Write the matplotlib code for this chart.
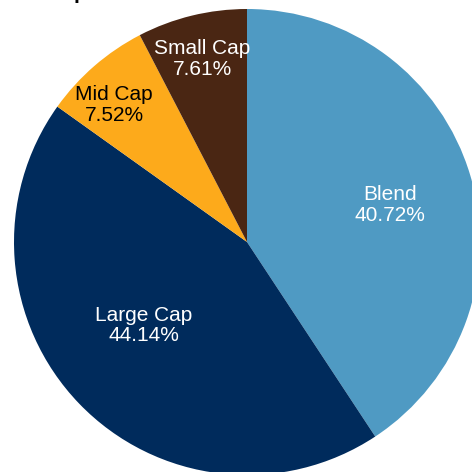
import numpy as np
import matplotlib
matplotlib.use("Agg")
import matplotlib.pyplot as plt

plt.rcParams['font.family'] = ['Liberation Sans', 'DejaVu Sans']

labels = ["Blend", "Large Cap", "Mid Cap", "Small Cap"]
values = [40.72, 44.14, 7.52, 7.61]
colors = ["#4F9AC3", "#002B5C", "#FDAA1B", "#4A2613"]
text_colors = ["white", "white", "black", "white"]
# label placement (fraction of radius, angle nudge in degrees)
label_dist = [0.635, 0.57, 0.82, 0.81]
label_nudge = [-2.2, -5.0, 3.2, 0.0]

fig = plt.figure(figsize=(4.72, 4.72), dpi=100)
ax = fig.add_axes([14 / 472, -3 / 472, 466 / 472, 466 / 472])

wedges, _ = ax.pie(values, colors=colors, startangle=90, counterclock=False,
                   radius=1, frame=False)
ax.set_xlim(-1, 1)
ax.set_ylim(-1, 1)
ax.set_aspect("equal")

for w, lab, v, c, d, n in zip(wedges, labels, values, text_colors, label_dist, label_nudge):
    ang = np.deg2rad((w.theta1 + w.theta2) / 2 + n)
    ax.text(d * np.cos(ang), d * np.sin(ang), f"{lab}\n{v:.2f}%",
            ha="center", va="center", color=c, fontsize=15, linespacing=1.12)

# title sits mostly above the cropped figure edge
fig.text(87 / 472, 1 + 1 / 472, "Market Cap", ha="right", va="baseline",
         fontsize=15, fontweight="bold", color="black")

fig.savefig("out.png", dpi=100)
